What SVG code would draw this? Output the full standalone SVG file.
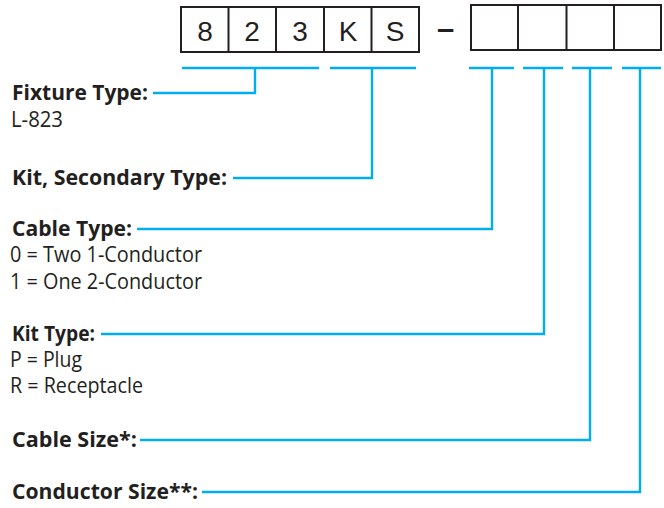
<svg xmlns="http://www.w3.org/2000/svg" width="664" height="508" viewBox="0 0 664 508">
<style>
.box{fill:#fff;stroke:#231f20;stroke-width:2}
.dig{font-family:"Liberation Sans",Arial,sans-serif;font-size:28px;fill:#231f20;text-anchor:middle}
.lbl{font-family:"Open Sans","Noto Sans",sans-serif;font-size:21px;font-weight:bold;fill:#231f20}
.txt{font-family:"Open Sans","Noto Sans",sans-serif;font-size:21px;fill:#231f20}
.con{fill:none;stroke:#00aeef;stroke-width:2.4}
</style>
<rect width="664" height="508" fill="#fff"/>
<g id="code-box">
<rect class="box" x="181" y="7" width="238" height="45"/>
<path class="box" d="M228.5 7V52M276 7V52M324 7V52M371.5 7V52"/>
<text class="dig" x="205" y="41">8</text>
<text class="dig" x="252" y="41">2</text>
<text class="dig" x="300" y="41">3</text>
<text class="dig" x="348" y="41">K</text>
<text class="dig" x="395" y="41">S</text>
</g>
<g id="dash"><text class="dig" x="445.5" y="38.5" style="font-size:31px;font-weight:bold">–</text></g>
<g id="option-box">
<rect class="box" x="471" y="5" width="190" height="45"/>
<path class="box" d="M518 5V50M566.5 5V50M614 5V50"/>
</g>
<g id="connectors">
<path class="con" d="M182 68H319M255 68V93H153"/>
<path class="con" d="M330 68H416M372 68V178H233"/>
<path class="con" d="M469 68H514M492 68V229H137"/>
<path class="con" d="M523 68H563M544 68V334H101"/>
<path class="con" d="M572 68H612M590 68V440H140"/>
<path class="con" d="M622 68H661M640 68V492H202"/>
</g>
<g id="fixture-type">
<text class="lbl" x="12" y="100" textLength="136" lengthAdjust="spacingAndGlyphs">Fixture Type:</text>
<text class="txt" x="11" y="127" textLength="52" lengthAdjust="spacingAndGlyphs">L-823</text>
</g>
<g id="kit-secondary-type">
<text class="lbl" x="12" y="185" textLength="215" lengthAdjust="spacingAndGlyphs">Kit, Secondary Type:</text>
</g>
<g id="cable-type">
<text class="lbl" x="12" y="236" textLength="120" lengthAdjust="spacingAndGlyphs">Cable Type:</text>
<text class="txt" x="10" y="262" textLength="192" lengthAdjust="spacingAndGlyphs">0 = Two 1-Conductor</text>
<text class="txt" x="10" y="289" textLength="192" lengthAdjust="spacingAndGlyphs">1 = One 2-Conductor</text>
</g>
<g id="kit-type">
<text class="lbl" x="12" y="341" textLength="83" lengthAdjust="spacingAndGlyphs">Kit Type:</text>
<text class="txt" x="10" y="367" textLength="72" lengthAdjust="spacingAndGlyphs">P = Plug</text>
<text class="txt" x="10" y="393" textLength="133" lengthAdjust="spacingAndGlyphs">R = Receptacle</text>
</g>
<g id="cable-size">
<text class="lbl" x="12" y="447" textLength="125" lengthAdjust="spacingAndGlyphs">Cable Size*:</text>
</g>
<g id="conductor-size">
<text class="lbl" x="12" y="499" textLength="186" lengthAdjust="spacingAndGlyphs">Conductor Size**:</text>
</g>
</svg>
